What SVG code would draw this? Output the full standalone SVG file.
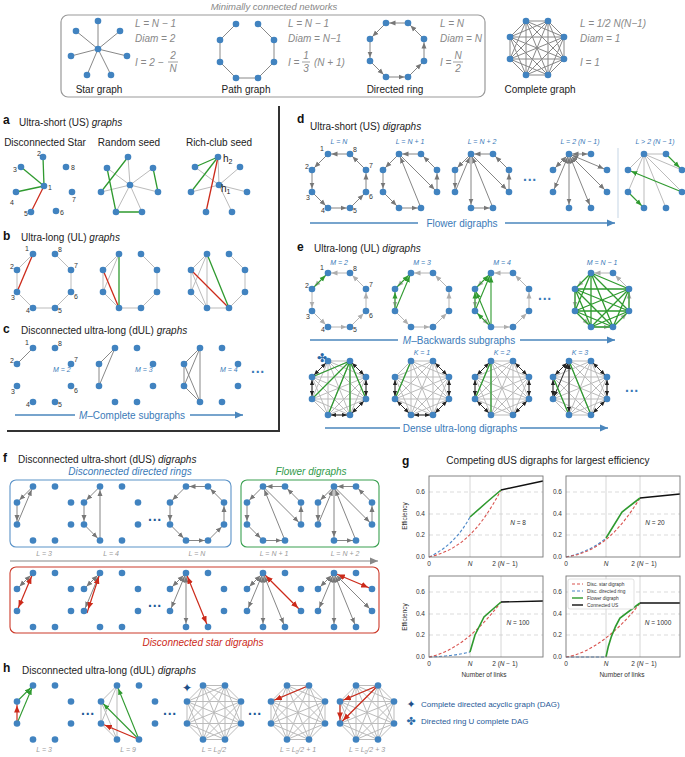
<svg xmlns="http://www.w3.org/2000/svg" xmlns:xlink="http://www.w3.org/1999/xlink" width="685" height="757" viewBox="0 0 685 757">
<style>
.t{font-family:"Liberation Sans",Arial,sans-serif;font-size:10px;fill:#222}
.h{font-family:"Liberation Sans",Arial,sans-serif;font-size:11px;font-weight:bold;fill:#111}
.fm{font-family:"Liberation Sans",Arial,sans-serif;font-size:10px;font-style:italic;fill:#888}
.nb{font-family:"Liberation Sans",Arial,sans-serif;font-size:7px;fill:#333}
.bl{font-family:"Liberation Sans",Arial,sans-serif;font-size:7px;font-style:italic;fill:#3a7ab8}
.gl{font-family:"Liberation Sans",Arial,sans-serif;font-size:7px;font-style:italic;fill:#999}
.tk{font-family:"Liberation Sans",Arial,sans-serif;font-size:6.5px;fill:#333}
.n{fill:#4183c0}
.e{stroke:#bbb;stroke-width:1;fill:none}
.ed{stroke:#888;stroke-width:1;fill:none}
.a{stroke:#777;stroke-width:0.9;fill:none;marker-end:url(#ma)}
.ab{stroke:#777;stroke-width:0.9;fill:none;marker-end:url(#ma);marker-start:url(#ma)}
.g{stroke:#2f9a2f;stroke-width:1.3;fill:none}
.ga{stroke:#2f9a2f;stroke-width:1.1;fill:none;marker-end:url(#mg)}
.r{stroke:#cc2a1a;stroke-width:1.3;fill:none}
.ra{stroke:#cc2a1a;stroke-width:1.2;fill:none;marker-end:url(#mr)}
.rab{stroke:#cc2a1a;stroke-width:1.2;fill:none;marker-end:url(#mr);marker-start:url(#mr)}
.ka{stroke:#222;stroke-width:0.9;fill:none;marker-end:url(#mk);marker-start:url(#mk)}
.ar{stroke:#4a86bd;stroke-width:1.3;fill:none;marker-end:url(#mb)}
.grid{stroke:#ccc;stroke-width:0.7;stroke-dasharray:4 3}
.vg{stroke:#ccc;stroke-width:0.8}
.ax{fill:none;stroke:#777;stroke-width:0.9}
</style>
<defs>
<marker id="ma" viewBox="0 0 6 6" refX="9.5" refY="3" markerWidth="6" markerHeight="6" orient="auto-start-reverse" markerUnits="userSpaceOnUse"><path d="M0,0.5L6,3L0,5.5z" fill="#777"/></marker>
<marker id="mg" viewBox="0 0 6 6" refX="9.5" refY="3" markerWidth="6" markerHeight="6" orient="auto-start-reverse" markerUnits="userSpaceOnUse"><path d="M0,0.5L6,3L0,5.5z" fill="#2f9a2f"/></marker>
<marker id="mr" viewBox="0 0 6 6" refX="9.5" refY="3" markerWidth="7" markerHeight="7" orient="auto-start-reverse" markerUnits="userSpaceOnUse"><path d="M0,0.5L6,3L0,5.5z" fill="#cc2a1a"/></marker>
<marker id="mk" viewBox="0 0 6 6" refX="9.5" refY="3" markerWidth="5" markerHeight="5" orient="auto-start-reverse" markerUnits="userSpaceOnUse"><path d="M0,0.5L6,3L0,5.5z" fill="#222"/></marker>
<marker id="mb" viewBox="0 0 8 8" refX="8" refY="4" markerWidth="8" markerHeight="8" orient="auto" markerUnits="userSpaceOnUse"><path d="M0,0.5L8,4L0,7.5z" fill="#4a86bd"/></marker>
<marker id="mgr" viewBox="0 0 8 8" refX="8" refY="4" markerWidth="8" markerHeight="8" orient="auto" markerUnits="userSpaceOnUse"><path d="M0,0.5L8,4L0,7.5z" fill="#888"/></marker>
<g id="oct">
<circle class="n" cx="-11" cy="-27" r="3.3"/><circle class="n" cx="11" cy="-27" r="3.3"/>
<circle class="n" cx="-27" cy="-11" r="3.3"/><circle class="n" cx="27" cy="-11" r="3.3"/>
<circle class="n" cx="-27" cy="11" r="3.3"/><circle class="n" cx="27" cy="11" r="3.3"/>
<circle class="n" cx="-11" cy="27" r="3.3"/><circle class="n" cx="11" cy="27" r="3.3"/>
</g>
<g id="num">
<text class="nb" x="-19" y="-30">1</text><text class="nb" x="14" y="-29">8</text>
<text class="nb" x="-34" y="-12">2</text><text class="nb" x="30" y="-13">7</text>
<text class="nb" x="-33" y="19">3</text><text class="nb" x="30" y="18">6</text>
<text class="nb" x="-18" y="32">4</text><text class="nb" x="14" y="32">5</text>
</g>
<path id="K8" d="M-11,-27L-27,-11M-11,-27L-27,11M-11,-27L-11,27M-11,-27L11,27M-11,-27L27,11M-11,-27L27,-11M-11,-27L11,-27M-27,-11L-27,11M-27,-11L-11,27M-27,-11L11,27M-27,-11L27,11M-27,-11L27,-11M-27,-11L11,-27M-27,11L-11,27M-27,11L11,27M-27,11L27,11M-27,11L27,-11M-27,11L11,-27M-11,27L11,27M-11,27L27,11M-11,27L27,-11M-11,27L11,-27M11,27L27,11M11,27L27,-11M11,27L11,-27M27,11L27,-11M27,11L11,-27M27,-11L11,-27"/>
<g id="dring">
<line class="a" x1="11" y1="-27" x2="-11" y2="-27"/><line class="a" x1="-11" y1="-27" x2="-27" y2="-11"/>
<line class="a" x1="-27" y1="-11" x2="-27" y2="11"/><line class="a" x1="-27" y1="11" x2="-11" y2="27"/>
<line class="a" x1="-11" y1="27" x2="11" y2="27"/><line class="a" x1="11" y1="27" x2="27" y2="11"/>
<line class="a" x1="27" y1="11" x2="27" y2="-11"/><line class="a" x1="27" y1="-11" x2="11" y2="-27"/>
</g>
<g id="fl2">
<line class="a" x1="11" y1="-27" x2="-11" y2="-27"/><line class="a" x1="-11" y1="-27" x2="-27" y2="-11"/>
<line class="a" x1="-27" y1="-11" x2="-27" y2="11"/><line class="a" x1="-27" y1="11" x2="-11" y2="27"/>
<line class="a" x1="-11" y1="27" x2="11" y2="27"/><line class="a" x1="11" y1="27" x2="-11" y2="-27"/>
<line class="a" x1="-11" y1="-27" x2="27" y2="11"/><line class="a" x1="27" y1="11" x2="27" y2="-11"/>
<line class="a" x1="27" y1="-11" x2="11" y2="-27"/>
</g>
<g id="fl3">
<line class="a" x1="11" y1="-27" x2="-11" y2="-27"/><line class="a" x1="-11" y1="-27" x2="-27" y2="-11"/>
<line class="a" x1="-27" y1="-11" x2="-27" y2="11"/><line class="a" x1="-27" y1="11" x2="-11" y2="-27"/>
<line class="a" x1="-11" y1="-27" x2="-11" y2="27"/><line class="a" x1="-11" y1="27" x2="11" y2="27"/>
<line class="a" x1="11" y1="27" x2="-11" y2="-27"/>
<line class="a" x1="-11" y1="-27" x2="27" y2="11"/><line class="a" x1="27" y1="11" x2="27" y2="-11"/>
<line class="a" x1="27" y1="-11" x2="11" y2="-27"/>
</g>
</defs>
<rect width="685" height="757" fill="#fff"/>

<!-- Top panel -->
<g id="top">
<text class="fm" x="274" y="10" text-anchor="middle" style="font-size:9.5px">Minimally connected networks</text>
<rect x="61" y="15" width="424" height="82" rx="7" fill="none" stroke="#999" stroke-width="1.2"/>
<g id="star-graph">
<path class="ed" d="M98,49L98,21M98,49L76,31M98,49L120,31M98,49L71,56M98,49L127,56M98,49L87,75M98,49L111,75"/>
<circle class="n" cx="98" cy="49" r="3.3"/><circle class="n" cx="98" cy="21" r="3.3"/><circle class="n" cx="76" cy="31" r="3.3"/><circle class="n" cx="120" cy="31" r="3.3"/><circle class="n" cx="71" cy="56" r="3.3"/><circle class="n" cx="127" cy="56" r="3.3"/><circle class="n" cx="87" cy="75" r="3.3"/><circle class="n" cx="111" cy="75" r="3.3"/>
<text class="t" x="99" y="93" text-anchor="middle">Star graph</text>
<text class="fm" x="135" y="27">L = N − 1</text><text class="fm" x="135" y="42">Diam = 2</text>
<text class="fm" x="135" y="66">I = 2 −</text><text class="fm" x="173" y="59" text-anchor="middle">2</text><line x1="168" y1="62" x2="178" y2="62" stroke="#888" stroke-width="0.8"/><text class="fm" x="173" y="72" text-anchor="middle">N</text>
</g>
<g id="path-graph" transform="translate(247,51)">
<path class="ed" d="M-11,-27L-27,-11L-27,11L-11,27L11,27L27,11L27,-11L11,-27"/>
<use href="#oct"/>
</g>
<g id="path-text">
<text class="t" x="246" y="93" text-anchor="middle">Path graph</text>
<text class="fm" x="288" y="27">L = N − 1</text><text class="fm" x="288" y="42">Diam = N−1</text>
<text class="fm" x="288" y="66">I =</text><text class="fm" x="306" y="59" text-anchor="middle">1</text><line x1="302" y1="62" x2="310" y2="62" stroke="#888" stroke-width="0.8"/><text class="fm" x="306" y="72" text-anchor="middle">3</text><text class="fm" x="314" y="66">(N + 1)</text>
</g>
<g id="directed-ring" transform="translate(397,50)">
<use href="#dring"/><use href="#oct"/>
</g>
<g id="dring-text">
<text class="t" x="395" y="93" text-anchor="middle">Directed ring</text>
<text class="fm" x="440" y="27">L = N</text><text class="fm" x="440" y="42">Diam = N</text>
<text class="fm" x="440" y="66">I =</text><text class="fm" x="458" y="59" text-anchor="middle">N</text><line x1="453" y1="62" x2="463" y2="62" stroke="#888" stroke-width="0.8"/><text class="fm" x="458" y="72" text-anchor="middle">2</text>
</g>
<g id="complete-graph" transform="translate(537,48)">
<use href="#K8" class="ed" stroke="#777"/><use href="#oct"/>
</g>
<g id="complete-text">
<text class="t" x="540" y="93" text-anchor="middle">Complete graph</text>
<text class="fm" x="580" y="27">L = 1/2 N(N−1)</text><text class="fm" x="580" y="42">Diam = 1</text><text class="fm" x="580" y="66">I = 1</text>
</g>
</g>

<!-- Panel a-c -->
<g id="panel-abc">
<path d="M279,106L279,431L7,431" fill="none" stroke="#333" stroke-width="2"/>
<text class="h" x="3" y="124" style="font-size:12px">a</text>
<text class="t" x="19" y="126">Ultra-short (US) <tspan font-style="italic">graphs</tspan></text>
<text class="t" x="45" y="146" text-anchor="middle">Disconnected Star</text>
<text class="t" x="129" y="146" text-anchor="middle">Random seed</text>
<text class="t" x="219" y="146" text-anchor="middle">Rich-club seed</text>
<g id="a-star">
<line class="g" x1="44" y1="186" x2="43" y2="157" stroke-width="0.8"/><line class="g" x1="44" y1="186" x2="21" y2="167"/><line class="g" x1="44" y1="186" x2="16" y2="192" stroke-width="1.8"/><line class="r" x1="44" y1="186" x2="31" y2="212"/>
<g class="n"><circle cx="44" cy="186" r="3.3"/><circle cx="43" cy="157" r="3.3"/><circle cx="21" cy="167" r="3.3"/><circle cx="16" cy="192" r="3.3"/><circle cx="31" cy="212" r="3.3"/><circle cx="56" cy="211" r="3.3"/><circle cx="72" cy="192" r="3.3"/><circle cx="66" cy="167" r="3.3"/></g>
<text class="nb" x="48" y="190">1</text><text class="nb" x="37" y="156">2</text><text class="nb" x="13" y="172">3</text><text class="nb" x="10" y="205">4</text><text class="nb" x="24" y="216">5</text><text class="nb" x="60" y="215">6</text><text class="nb" x="72" y="202">7</text><text class="nb" x="71" y="170">8</text>
</g>
<g id="a-random">
<path class="e" d="M130,185L128,157M130,185L107,168M130,185L101,192M130,185L158,192M130,185L116,212M130,185L142,212M130,185L153,168"/>
<path class="g" d="M128,157L101,192M107,168L116,212M153,168L158,192M116,212L142,212"/>
<g class="n"><circle cx="130" cy="185" r="3.3"/><circle cx="128" cy="157" r="3.3"/><circle cx="107" cy="168" r="3.3"/><circle cx="153" cy="168" r="3.3"/><circle cx="101" cy="192" r="3.3"/><circle cx="158" cy="192" r="3.3"/><circle cx="116" cy="212" r="3.3"/><circle cx="142" cy="212" r="3.3"/></g>
</g>
<g id="a-richclub">
<path class="e" d="M219,185L218,157M219,185L195,167M219,185L240,167M219,185L247,192M219,185L232,212M219,185L191,192"/>
<line class="g" x1="195" y1="167" x2="218" y2="157" stroke-width="0.8"/><line class="g" x1="191" y1="192" x2="218" y2="157" stroke-width="1.8"/><line class="r" x1="206" y1="212" x2="218" y2="157"/>
<g class="n"><circle cx="219" cy="185" r="3.3"/><circle cx="218" cy="157" r="3.3"/><circle cx="195" cy="167" r="3.3"/><circle cx="240" cy="167" r="3.3"/><circle cx="191" cy="192" r="3.3"/><circle cx="247" cy="192" r="3.3"/><circle cx="206" cy="212" r="3.3"/><circle cx="232" cy="212" r="3.3"/></g>
<text class="t" x="223" y="162">h<tspan font-size="7" dy="2">2</tspan></text><text class="t" x="221" y="192">h<tspan font-size="7" dy="2">1</tspan></text>
</g>
<text class="h" x="3" y="240" style="font-size:12px">b</text>
<text class="t" x="21" y="241">Ultra-long (UL) <tspan font-style="italic">graphs</tspan></text>
<g id="b1" transform="translate(44,281)">
<path class="e" d="M-11,-27L-27,-11L-27,11L-11,27L11,27L27,11L27,-11L11,-27"/>
<line class="r" x1="-11" y1="-27" x2="-27" y2="11"/>
<use href="#oct"/><use href="#num"/>
</g>
<g id="b2" transform="translate(130,281)">
<path class="e" d="M-11,-27L-27,-11L-27,11L-11,27L11,27L27,11L27,-11L11,-27M-11,-27L-27,11"/>
<line class="r" x1="-27" y1="-11" x2="-11" y2="27"/><line class="g" x1="-11" y1="-27" x2="-11" y2="27" stroke-width="1.6"/>
<use href="#oct"/>
</g>
<g id="b3" transform="translate(218,281)">
<path class="e" d="M-11,-27L-27,-11L-27,11L-11,27L11,27L27,11L27,-11L11,-27M-11,-27L-27,11M-11,-27L-11,27M-27,-11L-11,27"/>
<line class="r" x1="-27" y1="-11" x2="11" y2="27"/><line class="g" x1="-11" y1="-27" x2="11" y2="27" stroke-width="1.6"/>
<use href="#oct"/>
</g>
<text class="h" x="3" y="333" style="font-size:12px">c</text>
<text class="t" x="21" y="334">Disconnected ultra-long (dUL) <tspan font-style="italic">graphs</tspan></text>
<g id="c1" transform="translate(44,375)">
<line class="ed" x1="-11" y1="-27" x2="-27" y2="-11"/>
<use href="#oct"/><use href="#num"/>
<text class="bl" x="9" y="-3">M = 2</text>
</g>
<g id="c2" transform="translate(126,375)">
<path class="ed" d="M-11,-27L-27,-11L-27,11Z"/>
<use href="#oct"/><text class="bl" x="9" y="-3">M = 3</text>
</g>
<g id="c3" transform="translate(211,375)">
<path class="ed" d="M-11,-27L-27,-11L-27,11L-11,27M-11,-27L-27,11M-11,-27L-11,27M-27,-11L-11,27"/>
<use href="#oct"/><text class="bl" x="9" y="-3">M = 4</text>
</g>
<text x="258" y="377" style="font-family:Liberation Sans;font-size:14px;font-weight:bold;fill:#3a7ab8" text-anchor="middle">···</text>
<line x1="15" y1="415" x2="75" y2="415" stroke="#4a86bd" stroke-width="1.3"/>
<line class="ar" x1="190" y1="415" x2="243" y2="415"/>
<text x="132" y="419" text-anchor="middle" style="font-family:Liberation Sans;font-size:10px;fill:#3a7ab8"><tspan font-style="italic">M</tspan>–Complete subgraphs</text>
</g>

<!-- Panel d -->
<g id="panel-d">
<text class="h" x="297" y="123" style="font-size:12px">d</text>
<text class="t" x="310" y="130">Ultra-short (US) <tspan font-style="italic">digraphs</tspan></text>
<text class="bl" x="339" y="144" text-anchor="middle">L = N</text>
<text class="bl" x="410" y="144" text-anchor="middle">L = N + 1</text>
<text class="bl" x="482" y="144" text-anchor="middle">L = N + 2</text>
<text class="bl" x="580" y="144" text-anchor="middle">L = 2 (N − 1)</text>
<text class="bl" x="655" y="144" text-anchor="middle">L &gt; 2 (N − 1)</text>
<g id="d1" transform="translate(339,181)"><use href="#dring"/><use href="#oct"/><use href="#num"/></g>
<g id="d2" transform="translate(410,181)"><use href="#fl2"/><use href="#oct"/></g>
<g id="d3" transform="translate(482,181)"><use href="#fl3"/><use href="#oct"/></g>
<text x="530" y="185" style="font-family:Liberation Sans;font-size:14px;font-weight:bold;fill:#3a7ab8" text-anchor="middle">···</text>
<g id="d4" transform="translate(580,181)">
<line class="ab" x1="-11" y1="-27" x2="11" y2="-27"/><line class="ab" x1="-11" y1="-27" x2="-27" y2="-11"/><line class="ab" x1="-11" y1="-27" x2="-27" y2="11"/><line class="ab" x1="-11" y1="-27" x2="-11" y2="27"/><line class="ab" x1="-11" y1="-27" x2="11" y2="27"/><line class="ab" x1="-11" y1="-27" x2="27" y2="11"/><line class="ab" x1="-11" y1="-27" x2="27" y2="-11"/>
<use href="#oct"/>
</g>
<g id="d5" transform="translate(655,181)">
<path class="e" d="M-11,-27L11,-27M-11,-27L-27,-11M-11,-27L-27,11M-11,-27L-11,27M-11,-27L11,27M-11,-27L27,11M-11,-27L27,-11"/>
<line class="ga" x1="11" y1="-27" x2="27" y2="-11"/><line class="ga" x1="27" y1="11" x2="-27" y2="-11"/><line class="ga" x1="-27" y1="11" x2="-11" y2="27"/>
<use href="#oct"/>
</g>
<line x1="618" y1="148" x2="618" y2="218" stroke="#c5d5e5" stroke-width="1"/>
<line x1="310" y1="223" x2="418" y2="223" stroke="#4a86bd" stroke-width="1.3"/>
<line class="ar" x1="505" y1="223" x2="615" y2="223"/>
<text x="462" y="227" text-anchor="middle" style="font-family:Liberation Sans;font-size:10px;fill:#3a7ab8">Flower digraphs</text>
</g>

<!-- Panel e -->
<g id="panel-e">
<text class="h" x="297" y="251" style="font-size:12px">e</text>
<text class="t" x="314" y="252">Ultra-long (UL) <tspan font-style="italic">digraphs</tspan></text>
<text class="bl" x="339" y="265" text-anchor="middle">M = 2</text>
<text class="bl" x="422" y="265" text-anchor="middle">M = 3</text>
<text class="bl" x="502" y="265" text-anchor="middle">M = 4</text>
<text class="bl" x="602" y="265" text-anchor="middle">M = N − 1</text>
<g id="e1" transform="translate(339,300)"><use href="#dring" opacity="0.6"/><line class="ga" x1="-27" y1="-11" x2="-11" y2="-27"/><use href="#oct"/><use href="#num"/></g>
<g id="e2" transform="translate(422,300)"><use href="#dring" opacity="0.6"/><line class="ga" x1="-27" y1="-11" x2="-11" y2="-27"/><line class="ga" x1="-27" y1="11" x2="-11" y2="-27"/><line class="ga" x1="-27" y1="11" x2="-27" y2="-11"/><use href="#oct"/></g>
<g id="e3" transform="translate(502,300)"><use href="#dring" opacity="0.6"/><line class="ga" x1="-27" y1="-11" x2="-11" y2="-27"/><line class="ga" x1="-27" y1="11" x2="-11" y2="-27"/><line class="ga" x1="-11" y1="27" x2="-11" y2="-27"/><line class="ga" x1="-27" y1="11" x2="-27" y2="-11"/><line class="ga" x1="-11" y1="27" x2="-27" y2="-11"/><line class="ga" x1="-11" y1="27" x2="-27" y2="11"/><use href="#oct"/></g>
<text x="545" y="304" style="font-family:Liberation Sans;font-size:14px;font-weight:bold;fill:#3a7ab8" text-anchor="middle">···</text>
<g id="e4" transform="translate(602,300)"><use href="#dring" opacity="0.6"/>
<g class="g" stroke-width="1.1"><path d="M-11,-27L-27,-11M-11,-27L-27,11M-11,-27L-11,27M-11,-27L11,27M-11,-27L27,11M-11,-27L27,-11M-27,-11L-27,11M-27,-11L-11,27M-27,-11L11,27M-27,-11L27,11M-27,-11L27,-11M-27,11L-11,27M-27,11L11,27M-27,11L27,11M-27,11L27,-11M-11,27L11,27M-11,27L27,11M-11,27L27,-11M11,27L27,11M11,27L27,-11M27,11L27,-11"/></g>
<use href="#oct"/></g>
<line x1="310" y1="340" x2="398" y2="340" stroke="#4a86bd" stroke-width="1.3"/>
<line class="ar" x1="520" y1="340" x2="615" y2="340"/>
<text x="459" y="344" text-anchor="middle" style="font-family:Liberation Sans;font-size:10px;fill:#3a7ab8"><tspan font-style="italic">M</tspan>–Backwards subgraphs</text>
<text class="bl" x="422" y="355" text-anchor="middle">K = 1</text>
<text class="bl" x="502" y="355" text-anchor="middle">K = 2</text>
<text class="bl" x="580" y="355" text-anchor="middle">K = 3</text>
<text x="322" y="362" text-anchor="middle" style="font-family:'DejaVu Sans';font-size:12px;fill:#2a6aa8">✤</text>
<g id="e5" transform="translate(339,388)"><use href="#K8" class="e"/>
<line class="ka" x1="11" y1="-27" x2="27" y2="-11"/><line class="ka" x1="27" y1="-11" x2="27" y2="11"/><line class="ka" x1="27" y1="11" x2="11" y2="27"/><line class="ka" x1="11" y1="27" x2="-11" y2="27"/><line class="ka" x1="-27" y1="-11" x2="-27" y2="11"/><line class="ka" x1="-11" y1="-27" x2="-27" y2="-11"/>
<path class="g" d="M11,-27L-27,-11M11,-27L-27,11M11,-27L-11,27M11,-27L11,27M11,-27L27,11"/><use href="#oct"/></g>
<g id="e6" transform="translate(422,388)"><use href="#K8" class="e"/>
<line class="ka" x1="11" y1="-27" x2="27" y2="-11"/><line class="ka" x1="27" y1="-11" x2="27" y2="11"/><line class="ka" x1="27" y1="11" x2="11" y2="27"/><line class="ka" x1="11" y1="27" x2="-11" y2="27"/><line class="ka" x1="-27" y1="11" x2="-11" y2="27"/><line class="ka" x1="-27" y1="-11" x2="-27" y2="11"/>
<line class="g" x1="-11" y1="-27" x2="-27" y2="11"/><use href="#oct"/></g>
<g id="e7" transform="translate(502,388)"><use href="#K8" class="e"/>
<line class="ka" x1="11" y1="-27" x2="27" y2="-11"/><line class="ka" x1="27" y1="-11" x2="27" y2="11"/><line class="ka" x1="27" y1="11" x2="11" y2="27"/><line class="ka" x1="-11" y1="-27" x2="-27" y2="-11"/><line class="ka" x1="-27" y1="11" x2="-11" y2="27"/><line class="ka" x1="-27" y1="-11" x2="-27" y2="11"/>
<path class="g" d="M-11,-27L-11,27M-11,-27L-27,11"/><use href="#oct"/></g>
<g id="e8" transform="translate(580,388)"><use href="#K8" class="e"/>
<line class="ka" x1="11" y1="-27" x2="27" y2="-11"/><line class="ka" x1="27" y1="-11" x2="27" y2="11"/><line class="ka" x1="27" y1="11" x2="11" y2="27"/><line class="ka" x1="-11" y1="-27" x2="-27" y2="-11"/><line class="ka" x1="-27" y1="-11" x2="-27" y2="11"/><line class="ka" x1="-11" y1="-27" x2="-27" y2="11"/><line class="ka" x1="-11" y1="-27" x2="-11" y2="27"/>
<path class="g" d="M-11,-27L11,27M-27,-11L-11,27"/><use href="#oct"/></g>
<text x="632" y="396" style="font-family:Liberation Sans;font-size:14px;font-weight:bold;fill:#3a7ab8" text-anchor="middle">···</text>
<line x1="325" y1="428" x2="400" y2="428" stroke="#4a86bd" stroke-width="1.3"/>
<line class="ar" x1="520" y1="428" x2="608" y2="428"/>
<text x="460" y="432" text-anchor="middle" style="font-family:Liberation Sans;font-size:10px;fill:#3a7ab8">Dense ultra-long digraphs</text>
</g>

<!-- Panel f -->
<g id="panel-f">
<text class="h" x="3" y="462" style="font-size:12px">f</text>
<text class="t" x="18" y="463">Disconnected ultra-short (dUS) <tspan font-style="italic">digraphs</tspan></text>
<text x="130" y="475" text-anchor="middle" style="font-family:Liberation Sans;font-size:10px;font-style:italic;fill:#3a7ab8">Disconnected directed rings</text>
<text x="311" y="475" text-anchor="middle" style="font-family:Liberation Sans;font-size:10px;font-style:italic;fill:#2f9a4a">Flower digraphs</text>
<rect x="10" y="480" width="221" height="67" rx="6" fill="none" stroke="#5b93c8" stroke-width="1.1"/>
<rect x="241" y="480" width="138" height="67" rx="6" fill="none" stroke="#3aa050" stroke-width="1.1"/>
<g id="f1" transform="translate(44,513.5)"><line class="a" x1="-11" y1="-27" x2="-27" y2="-11"/><line class="a" x1="-27" y1="-11" x2="-27" y2="11"/><line class="a" x1="-27" y1="11" x2="-11" y2="-27"/><use href="#oct"/></g>
<g id="f2" transform="translate(111,513.5)"><line class="a" x1="-11" y1="-27" x2="-27" y2="-11"/><line class="a" x1="-27" y1="-11" x2="-27" y2="11"/><line class="a" x1="-27" y1="11" x2="-11" y2="27"/><line class="a" x1="-11" y1="27" x2="-11" y2="-27"/><use href="#oct"/></g>
<text x="155" y="525" style="font-family:Liberation Sans;font-size:14px;font-weight:bold;fill:#1f5a98" text-anchor="middle">···</text>
<g id="f3" transform="translate(197,513.5)"><use href="#dring"/><use href="#oct"/></g>
<g id="f4" transform="translate(274,513.5)"><use href="#fl2"/><use href="#oct"/></g>
<g id="f5" transform="translate(345,513.5)"><use href="#fl3"/><use href="#oct"/></g>
<text class="gl" x="44" y="556" text-anchor="middle">L = 3</text>
<text class="gl" x="111" y="556" text-anchor="middle">L = 4</text>
<text class="gl" x="197" y="556" text-anchor="middle">L = N</text>
<text class="gl" x="274" y="556" text-anchor="middle">L = N + 1</text>
<text class="gl" x="345" y="556" text-anchor="middle">L = N + 2</text>
<line x1="10" y1="561" x2="378" y2="561" stroke="#888" stroke-width="1.2" marker-end="url(#mgr)"/>
<rect x="10" y="567" width="369" height="66" rx="6" fill="none" stroke="#cc3a2a" stroke-width="1.1"/>
<g id="s1" transform="translate(44,600)"><line class="ab" x1="-11" y1="-27" x2="-27" y2="-11"/><line class="rab" x1="-11" y1="-27" x2="-27" y2="11"/><use href="#oct"/></g>
<g id="s2" transform="translate(111,600)"><line class="ab" x1="-11" y1="-27" x2="-27" y2="-11"/><line class="ab" x1="-11" y1="-27" x2="-27" y2="11"/><line class="rab" x1="-11" y1="-27" x2="-24" y2="13"/><use href="#oct"/></g>
<text x="155" y="611" style="font-family:Liberation Sans;font-size:14px;font-weight:bold;fill:#1f5a98" text-anchor="middle">···</text>
<g id="s3" transform="translate(197,600)"><line class="ab" x1="-11" y1="-27" x2="-27" y2="-11"/><line class="ab" x1="-11" y1="-27" x2="-27" y2="11"/><line class="ab" x1="-11" y1="-27" x2="-11" y2="27"/><line class="rab" x1="-11" y1="-27" x2="11" y2="27"/><use href="#oct"/></g>
<g id="s4" transform="translate(274,600)"><line class="ab" x1="-11" y1="-27" x2="-27" y2="-11"/><line class="ab" x1="-11" y1="-27" x2="-27" y2="11"/><line class="ab" x1="-11" y1="-27" x2="-11" y2="27"/><line class="ab" x1="-11" y1="-27" x2="11" y2="27"/><line class="rab" x1="-11" y1="-27" x2="27" y2="11"/><use href="#oct"/></g>
<g id="s5" transform="translate(345,600)"><line class="ab" x1="-11" y1="-27" x2="-27" y2="-11"/><line class="ab" x1="-11" y1="-27" x2="-27" y2="11"/><line class="ab" x1="-11" y1="-27" x2="-11" y2="27"/><line class="ab" x1="-11" y1="-27" x2="11" y2="27"/><line class="ab" x1="-11" y1="-27" x2="27" y2="11"/><line class="rab" x1="-11" y1="-27" x2="27" y2="-11"/><use href="#oct"/></g>
<text x="203" y="646" text-anchor="middle" style="font-family:Liberation Sans;font-size:10px;font-style:italic;fill:#cc2a1a">Disconnected star digraphs</text>
</g>

<!-- Panel h -->
<g id="panel-h">
<text class="h" x="3" y="672" style="font-size:12px">h</text>
<text class="t" x="22" y="674">Disconnected ultra-long (dUL) <tspan font-style="italic">digraphs</tspan></text>
<g id="h1" transform="translate(44,712.5)"><line class="ra" x1="-27" y1="11" x2="-27" y2="-11"/><line class="ga" x1="-27" y1="11" x2="-11" y2="-27"/><line class="ga" x1="-27" y1="-11" x2="-11" y2="-27"/><use href="#oct"/></g>
<text x="88" y="719" style="font-family:Liberation Sans;font-size:14px;font-weight:bold;fill:#1f5a98" text-anchor="middle">···</text>
<g id="h2" transform="translate(128,712.5)"><path class="e" d="M-11,-27L-27,-11M-11,-27L-27,11M-11,-27L-11,27M-27,-11L-27,11M-27,-11L-11,27M-27,11L-11,27"/>
<line class="ga" x1="11" y1="27" x2="-11" y2="-27"/><line class="ga" x1="11" y1="27" x2="-27" y2="-11"/><line class="ra" x1="11" y1="27" x2="-27" y2="11"/><use href="#oct"/></g>
<text x="170" y="719" style="font-family:Liberation Sans;font-size:14px;font-weight:bold;fill:#1f5a98" text-anchor="middle">···</text>
<text x="187" y="692" text-anchor="middle" style="font-family:'DejaVu Sans';font-size:12px;fill:#1f4f88">✦</text>
<g id="h3" transform="translate(214,712.5)"><use href="#K8" class="e"/><use href="#oct"/></g>
<text x="255" y="719" style="font-family:Liberation Sans;font-size:14px;font-weight:bold;fill:#1f5a98" text-anchor="middle">···</text>
<g id="h4" transform="translate(298,712.5)"><use href="#K8" class="e"/><line class="ra" x1="11" y1="-27" x2="-27" y2="-11"/><use href="#oct"/></g>
<g id="h5" transform="translate(367,712.5)"><use href="#K8" class="e"/><line class="ra" x1="11" y1="-27" x2="-27" y2="-11"/><line class="ra" x1="11" y1="-27" x2="-27" y2="11"/><line class="ra" x1="-27" y1="-11" x2="-27" y2="11"/><use href="#oct"/></g>
<text class="gl" x="44" y="752" text-anchor="middle">L = 3</text>
<text class="gl" x="128" y="752" text-anchor="middle">L = 9</text>
<text class="gl" x="214" y="752" text-anchor="middle">L = L<tspan font-size="5" dy="1.5">0</tspan><tspan dy="-1.5">/2</tspan></text>
<text class="gl" x="298" y="752" text-anchor="middle">L = L<tspan font-size="5" dy="1.5">0</tspan><tspan dy="-1.5">/2 + 1</tspan></text>
<text class="gl" x="367" y="752" text-anchor="middle">L = L<tspan font-size="5" dy="1.5">0</tspan><tspan dy="-1.5">/2 + 3</tspan></text>
</g>

<!-- Panel g -->
<g id="panel-g">
<text class="h" x="402" y="465" style="font-size:12px">g</text>
<text class="t" x="548" y="464" text-anchor="middle">Competing dUS digraphs for largest efficiency</text>
<g id="plot1">
<line class="grid" x1="429" y1="535" x2="543" y2="535"/><line class="grid" x1="429" y1="514" x2="543" y2="514"/><line class="grid" x1="429" y1="492" x2="543" y2="492"/>
<line class="vg" x1="470" y1="476" x2="470" y2="557"/><line class="vg" x1="501" y1="476" x2="501" y2="557"/>
<path d="M429,557Q455,545 470,517" fill="none" stroke="#4a86c8" stroke-width="1.1" stroke-dasharray="3 2"/>
<path d="M429,557C460,550 480,530 501,490" fill="none" stroke="#d9534f" stroke-width="1.1" stroke-dasharray="3 2"/>
<path d="M470,517L487,502L501,490" fill="none" stroke="#2f9a2f" stroke-width="1.6"/>
<path d="M501,490L543,481" fill="none" stroke="#111" stroke-width="1.4"/>
<rect class="ax" x="429" y="476" width="114" height="81"/>
<text class="tk" x="425" y="559" text-anchor="end">0.0</text><text class="tk" x="425" y="537" text-anchor="end">0.2</text><text class="tk" x="425" y="516" text-anchor="end">0.4</text><text class="tk" x="425" y="494" text-anchor="end">0.6</text>
<text class="tk" x="429" y="566" text-anchor="middle">0</text><text class="tk" x="470" y="566" text-anchor="middle" font-style="italic">N</text><text class="tk" x="505" y="566" text-anchor="middle">2 (<tspan font-style="italic">N</tspan> − 1)</text>
<text class="tk" x="518" y="525" text-anchor="middle"><tspan font-style="italic">N</tspan> = 8</text>
<text class="tk" x="407" y="516" text-anchor="middle" transform="rotate(-90 407 516)">Efficiency</text>
</g>
<g id="plot2">
<line class="grid" x1="566" y1="535" x2="680" y2="535"/><line class="grid" x1="566" y1="514" x2="680" y2="514"/><line class="grid" x1="566" y1="492" x2="680" y2="492"/>
<line class="vg" x1="606" y1="476" x2="606" y2="557"/><line class="vg" x1="640" y1="476" x2="640" y2="557"/>
<path d="M566,557Q590,552 606,538" fill="none" stroke="#4a86c8" stroke-width="1.1" stroke-dasharray="3 2"/>
<path d="M566,557C600,552 620,530 640,498" fill="none" stroke="#d9534f" stroke-width="1.1" stroke-dasharray="3 2"/>
<path d="M606,538L622,512L640,498" fill="none" stroke="#2f9a2f" stroke-width="1.6"/>
<path d="M640,498L680,494" fill="none" stroke="#111" stroke-width="1.4"/>
<rect class="ax" x="566" y="476" width="114" height="81"/>
<text class="tk" x="562" y="559" text-anchor="end">0.0</text><text class="tk" x="562" y="537" text-anchor="end">0.2</text><text class="tk" x="562" y="516" text-anchor="end">0.4</text><text class="tk" x="562" y="494" text-anchor="end">0.6</text>
<text class="tk" x="566" y="566" text-anchor="middle">0</text><text class="tk" x="606" y="566" text-anchor="middle" font-style="italic">N</text><text class="tk" x="644" y="566" text-anchor="middle">2 (<tspan font-style="italic">N</tspan> − 1)</text>
<text class="tk" x="655" y="525" text-anchor="middle"><tspan font-style="italic">N</tspan> = 20</text>
</g>
<g id="plot3">
<line class="grid" x1="429" y1="635" x2="543" y2="635"/><line class="grid" x1="429" y1="614" x2="543" y2="614"/><line class="grid" x1="429" y1="592" x2="543" y2="592"/>
<line class="vg" x1="470" y1="576" x2="470" y2="657"/><line class="vg" x1="501" y1="576" x2="501" y2="657"/>
<path d="M429,657Q455,656 470,652" fill="none" stroke="#4a86c8" stroke-width="1.1" stroke-dasharray="3 2"/>
<path d="M429,657C455,652 480,630 501,602" fill="none" stroke="#d9534f" stroke-width="1.1" stroke-dasharray="3 2"/>
<path d="M470,652L475,635L484,617L501,602" fill="none" stroke="#2f9a2f" stroke-width="1.6"/>
<path d="M501,602L543,601" fill="none" stroke="#111" stroke-width="1.4"/>
<rect class="ax" x="429" y="576" width="114" height="81"/>
<text class="tk" x="425" y="659" text-anchor="end">0.0</text><text class="tk" x="425" y="637" text-anchor="end">0.2</text><text class="tk" x="425" y="616" text-anchor="end">0.4</text><text class="tk" x="425" y="594" text-anchor="end">0.6</text>
<text class="tk" x="429" y="666" text-anchor="middle">0</text><text class="tk" x="470" y="666" text-anchor="middle" font-style="italic">N</text><text class="tk" x="505" y="666" text-anchor="middle">2 (<tspan font-style="italic">N</tspan> − 1)</text>
<text class="tk" x="518" y="625" text-anchor="middle"><tspan font-style="italic">N</tspan> = 100</text>
<text class="tk" x="407" y="617" text-anchor="middle" transform="rotate(-90 407 617)">Efficiency</text>
<text class="tk" x="484" y="677" text-anchor="middle">Number of links</text>
</g>
<g id="plot4">
<line class="grid" x1="566" y1="635" x2="680" y2="635"/><line class="grid" x1="566" y1="614" x2="680" y2="614"/><line class="grid" x1="566" y1="592" x2="680" y2="592"/>
<line class="vg" x1="606" y1="576" x2="606" y2="657"/><line class="vg" x1="640" y1="576" x2="640" y2="657"/>
<path d="M566,657L606,657" fill="none" stroke="#4a86c8" stroke-width="1.1" stroke-dasharray="3 2"/>
<path d="M566,657C590,654 620,630 640,603" fill="none" stroke="#d9534f" stroke-width="1.1" stroke-dasharray="3 2"/>
<path d="M606,657Q610,635 620,618L640,603" fill="none" stroke="#2f9a2f" stroke-width="1.6"/>
<path d="M640,603L680,603" fill="none" stroke="#111" stroke-width="1.4"/>
<rect class="ax" x="566" y="576" width="114" height="81"/>
<text class="tk" x="562" y="659" text-anchor="end">0.0</text><text class="tk" x="562" y="637" text-anchor="end">0.2</text><text class="tk" x="562" y="616" text-anchor="end">0.4</text><text class="tk" x="562" y="594" text-anchor="end">0.6</text>
<text class="tk" x="566" y="666" text-anchor="middle">0</text><text class="tk" x="606" y="666" text-anchor="middle" font-style="italic">N</text><text class="tk" x="644" y="666" text-anchor="middle">2 (<tspan font-style="italic">N</tspan> − 1)</text>
<text class="tk" x="658" y="625" text-anchor="middle"><tspan font-style="italic">N</tspan> = 1000</text>
<text class="tk" x="622" y="677" text-anchor="middle">Number of links</text>
<rect x="568" y="579" width="66" height="30" rx="2" fill="#fff" fill-opacity="0.9" stroke="#ccc" stroke-width="0.6"/>
<line x1="572" y1="584" x2="583" y2="584" stroke="#d9534f" stroke-width="1.1" stroke-dasharray="3 2"/><text class="tk" x="587" y="586" style="font-size:4.8px">Disc. star digraph</text>
<line x1="572" y1="591" x2="583" y2="591" stroke="#4a86c8" stroke-width="1.1" stroke-dasharray="3 2"/><text class="tk" x="587" y="593" style="font-size:4.8px">Disc. directed ring</text>
<line x1="572" y1="598" x2="583" y2="598" stroke="#2f9a2f" stroke-width="1.4"/><text class="tk" x="587" y="600" style="font-size:4.8px">Flower digraph</text>
<line x1="572" y1="605" x2="583" y2="605" stroke="#111" stroke-width="1.4"/><text class="tk" x="587" y="607" style="font-size:4.8px">Connected US</text>
</g>
<text x="411" y="708" text-anchor="middle" style="font-family:'DejaVu Sans';font-size:11px;fill:#1f4f88">✦</text>
<text x="421" y="707" style="font-family:Liberation Sans;font-size:8px;fill:#1f5a98">Complete directed acyclic graph (DAG)</text>
<text x="411" y="725" text-anchor="middle" style="font-family:'DejaVu Sans';font-size:11px;fill:#2a6aa8">✤</text>
<text x="421" y="724" style="font-family:Liberation Sans;font-size:8px;fill:#1f5a98">Directed ring U complete DAG</text>
</g>
</svg>
